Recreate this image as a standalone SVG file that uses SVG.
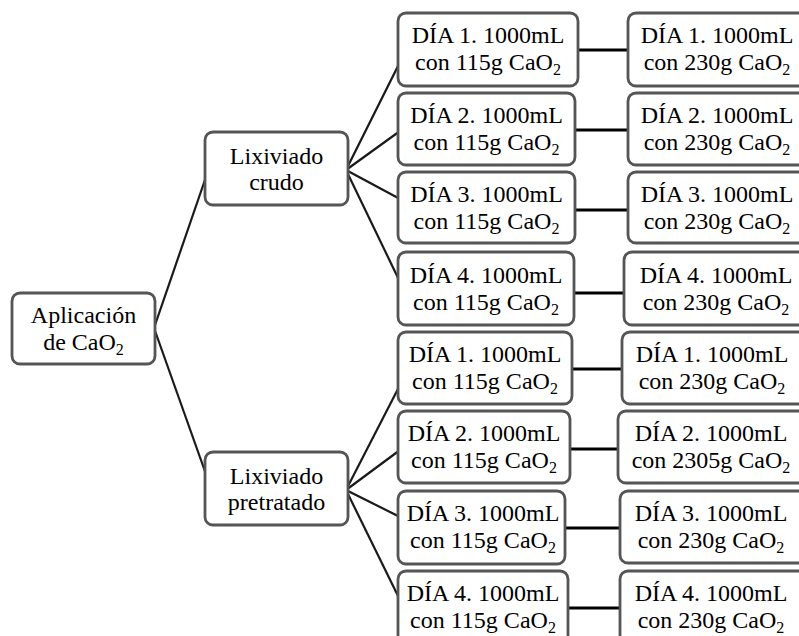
<svg xmlns="http://www.w3.org/2000/svg" width="799" height="636" viewBox="0 0 799 636">
<style>
.box{fill:#fff;stroke:#555;stroke-width:2.8}
.t{font-family:'Liberation Serif','DejaVu Serif',serif;font-size:24px;fill:#000;text-anchor:middle}
.s{font-size:16px}
.fan{stroke:#1a1a1a;stroke-width:2.2;fill:none}
.h{stroke:#000;stroke-width:3.2;fill:none}
</style>
<rect width="799" height="636" fill="#fff"/>
<g id="connectors">
<line class="fan" x1="154" y1="328" x2="207" y2="174"/>
<line class="fan" x1="154" y1="328" x2="207" y2="477"/>
<line class="fan" x1="346" y1="170" x2="400" y2="62"/>
<line class="fan" x1="346" y1="170" x2="400" y2="131"/>
<line class="fan" x1="346" y1="170" x2="400" y2="199"/>
<line class="fan" x1="346" y1="170" x2="400" y2="282"/>
<line class="fan" x1="346" y1="490" x2="400" y2="385"/>
<line class="fan" x1="346" y1="490" x2="400" y2="450"/>
<line class="fan" x1="346" y1="490" x2="400" y2="517"/>
<line class="fan" x1="346" y1="490" x2="400" y2="600"/>
<line class="h" x1="578" y1="50" x2="628" y2="50"/>
<line class="h" x1="575" y1="130" x2="628" y2="130"/>
<line class="h" x1="575" y1="210" x2="628" y2="210"/>
<line class="h" x1="574" y1="293" x2="624" y2="293"/>
<line class="h" x1="572" y1="369" x2="622" y2="369"/>
<line class="h" x1="570" y1="449" x2="618" y2="449"/>
<line class="h" x1="565" y1="528" x2="620" y2="528"/>
<line class="h" x1="568" y1="608" x2="620" y2="608"/>
</g>
<g id="aplicacion">
<rect class="box" x="12" y="293" width="143" height="71" rx="8"/>
<text class="t" x="83.5" y="323">Aplicación</text>
<text class="t" x="83.5" y="350">de CaO<tspan class="s" dy="5">2</tspan></text>
</g>
<g id="crudo">
<rect class="box" x="205" y="132" width="143" height="73" rx="8"/>
<text class="t" x="276.5" y="164">Lixiviado</text>
<text class="t" x="276.5" y="190">crudo</text>
</g>
<g id="pretratado">
<rect class="box" x="205" y="452" width="143" height="73" rx="8"/>
<text class="t" x="276.5" y="484">Lixiviado</text>
<text class="t" x="276.5" y="510">pretratado</text>
</g>
<g id="m1"><rect class="box" x="398" y="13" width="180" height="73" rx="8"/>
<text class="t" x="488" y="43">DÍA 1. 1000mL</text><text class="t" x="488" y="70">con 115g CaO<tspan class="s" dy="5">2</tspan></text></g>
<g id="m2"><rect class="box" x="398" y="93" width="177" height="72" rx="8"/>
<text class="t" x="486.5" y="123">DÍA 2. 1000mL</text><text class="t" x="486.5" y="150">con 115g CaO<tspan class="s" dy="5">2</tspan></text></g>
<g id="m3"><rect class="box" x="398" y="172" width="177" height="71" rx="8"/>
<text class="t" x="486.5" y="202">DÍA 3. 1000mL</text><text class="t" x="486.5" y="229">con 115g CaO<tspan class="s" dy="5">2</tspan></text></g>
<g id="m4"><rect class="box" x="398" y="252" width="176" height="73" rx="8"/>
<text class="t" x="486" y="283">DÍA 4. 1000mL</text><text class="t" x="486" y="310">con 115g CaO<tspan class="s" dy="5">2</tspan></text></g>
<g id="m5"><rect class="box" x="398" y="332" width="174" height="72" rx="8"/>
<text class="t" x="485" y="362">DÍA 1. 1000mL</text><text class="t" x="485" y="389">con 115g CaO<tspan class="s" dy="5">2</tspan></text></g>
<g id="m6"><rect class="box" x="398" y="411" width="172" height="72" rx="8"/>
<text class="t" x="484" y="441">DÍA 2. 1000mL</text><text class="t" x="484" y="468">con 115g CaO<tspan class="s" dy="5">2</tspan></text></g>
<g id="m7"><rect class="box" x="398" y="491" width="167" height="73" rx="8"/>
<text class="t" x="483" y="521">DÍA 3. 1000mL</text><text class="t" x="483" y="548">con 115g CaO<tspan class="s" dy="5">2</tspan></text></g>
<g id="m8"><rect class="box" x="398" y="571" width="170" height="80" rx="8"/>
<text class="t" x="483" y="601">DÍA 4. 1000mL</text><text class="t" x="483" y="628">con 115g CaO<tspan class="s" dy="5">2</tspan></text></g>
<g id="r1"><rect class="box" x="628" y="13" width="185" height="73" rx="8"/>
<text class="t" x="717" y="43">DÍA 1. 1000mL</text><text class="t" x="717" y="70">con 230g CaO<tspan class="s" dy="5">2</tspan></text></g>
<g id="r2"><rect class="box" x="628" y="93" width="185" height="72" rx="8"/>
<text class="t" x="717" y="123">DÍA 2. 1000mL</text><text class="t" x="717" y="150">con 230g CaO<tspan class="s" dy="5">2</tspan></text></g>
<g id="r3"><rect class="box" x="628" y="172" width="185" height="71" rx="8"/>
<text class="t" x="717" y="202">DÍA 3. 1000mL</text><text class="t" x="717" y="229">con 230g CaO<tspan class="s" dy="5">2</tspan></text></g>
<g id="r4"><rect class="box" x="624" y="252" width="185" height="73" rx="8"/>
<text class="t" x="716" y="283">DÍA 4. 1000mL</text><text class="t" x="716" y="310">con 230g CaO<tspan class="s" dy="5">2</tspan></text></g>
<g id="r5"><rect class="box" x="622" y="332" width="185" height="72" rx="8"/>
<text class="t" x="712" y="362">DÍA 1. 1000mL</text><text class="t" x="712" y="389">con 230g CaO<tspan class="s" dy="5">2</tspan></text></g>
<g id="r6"><rect class="box" x="618" y="411" width="190" height="72" rx="8"/>
<text class="t" x="711" y="441">DÍA 2. 1000mL</text><text class="t" x="711" y="468">con 2305g CaO<tspan class="s" dy="5">2</tspan></text></g>
<g id="r7"><rect class="box" x="620" y="491" width="190" height="72" rx="8"/>
<text class="t" x="711" y="521">DÍA 3. 1000mL</text><text class="t" x="711" y="548">con 230g CaO<tspan class="s" dy="5">2</tspan></text></g>
<g id="r8"><rect class="box" x="620" y="571" width="190" height="80" rx="8"/>
<text class="t" x="711" y="601">DÍA 4. 1000mL</text><text class="t" x="711" y="628">con 230g CaO<tspan class="s" dy="5">2</tspan></text></g>
</svg>
